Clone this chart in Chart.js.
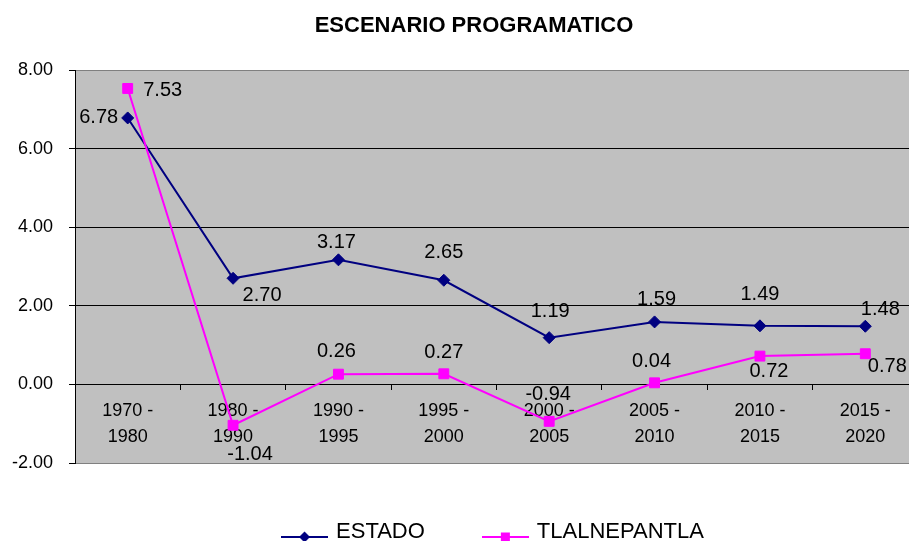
<!DOCTYPE html>
<html>
<head>
<meta charset="utf-8">
<script src="https://cdn.jsdelivr.net/npm/chart.js@4/dist/chart.umd.min.js"></script>
<style>
  html, body { margin: 0; padding: 0; overflow: hidden; background: #ffffff; }
  #wrap { position: absolute; left: 0; top: 0; width: 926px; height: 555px; }
</style>
</head>
<body>
<div id="wrap"><canvas id="c" width="926" height="555" style="width:926px;height:555px"></canvas></div>
<script>
// ---- data ----
const title = 'ESCENARIO PROGRAMATICO';
const categories = [
  ['1970 -', '1980'], ['1980 -', '1990'], ['1990 -', '1995'], ['1995 -', '2000'],
  ['2000 -', '2005'], ['2005 -', '2010'], ['2010 -', '2015'], ['2015 -', '2020']
];
const seriesNames = ['ESTADO', 'TLALNEPANTLA'];
const estado = [6.78, 2.70, 3.17, 2.65, 1.19, 1.59, 1.49, 1.48];
const tlalnepantla = [7.53, -1.04, 0.26, 0.27, -0.94, 0.04, 0.72, 0.78];
const yTickValues = [-2, 0, 2, 4, 6, 8];

// ---- label placement (style, relative to each point) ----
const estadoLabelShift = [[-29,0],[29,17],[-2,-17],[0,-28],[1,-26],[2,-22],[0,-31],[15,-17]];
const tlalLabelShift = [[35,2],[17,29],[-2,-23],[0,-21],[-1,-27],[-3,-21],[9,15],[22,13]];

const FONT = '"Liberation Sans", Arial, Helvetica, sans-serif';
const NAVY = '#000080';
const MAGENTA = '#FF00FF';

function legendImage(color, kind) {
  const c = document.createElement('canvas');
  c.width = 47; c.height = 30;
  const g = c.getContext('2d');
  const cy = 20;
  g.strokeStyle = color; g.lineWidth = 2;
  g.beginPath(); g.moveTo(0, cy); g.lineTo(47, cy); g.stroke();
  g.fillStyle = color;
  g.beginPath();
  if (kind === 'diamond') {
    g.moveTo(23.5 - 5.5, cy); g.lineTo(23.5, cy - 5.5); g.lineTo(23.5 + 5.5, cy); g.lineTo(23.5, cy + 5.5);
    g.closePath();
  } else {
    g.rect(23.5 - 4.5, cy - 4.5, 9, 9);
  }
  g.fill();
  return c;
}
const legendImages = [legendImage(NAVY, 'diamond'), legendImage(MAGENTA, 'square')];
const labelShifts = [estadoLabelShift, tlalLabelShift];

const plotBg = {
  id: 'plotBg',
  beforeDraw(chart) {
    const {ctx, chartArea: a} = chart;
    ctx.save();
    ctx.fillStyle = '#C0C0C0';
    ctx.fillRect(a.left, a.top, a.right - a.left, a.bottom - a.top);
    ctx.restore();
  }
};

const boxShift = {
  id: 'boxShift',
  afterLayout(chart) {
    const lg = chart.legend;
    if (lg) { lg.left += 31; lg.right += 31; lg.top -= 2; lg.bottom -= 2; }
    const tb = chart.titleBlock;
    if (tb) { tb.left += 11; tb.right += 11; }
  }
};

const valueLabels = {
  id: 'valueLabels',
  afterDatasetsDraw(chart) {
    const ctx = chart.ctx;
    ctx.save();
    ctx.font = '20px ' + FONT;
    ctx.fillStyle = '#000000';
    ctx.textAlign = 'center';
    ctx.textBaseline = 'middle';
    chart.data.datasets.forEach((ds, di) => {
      const meta = chart.getDatasetMeta(di);
      meta.data.forEach((el, i) => {
        const s = labelShifts[di][i];
        ctx.fillText(ds.data[i].toFixed(2), el.x + s[0], el.y + s[1]);
      });
    });
    ctx.restore();
  }
};

new Chart(document.getElementById('c'), {
  type: 'line',
  data: {
    labels: categories,
    datasets: [
      {
        label: seriesNames[0], data: estado, order: 1,
        borderColor: NAVY, backgroundColor: NAVY, borderWidth: 2,
        pointStyle: 'rectRot', pointRadius: 6, pointBorderWidth: 1,
        pointBackgroundColor: NAVY, pointBorderColor: NAVY, tension: 0, fill: false
      },
      {
        label: seriesNames[1], data: tlalnepantla, order: 0,
        borderColor: MAGENTA, backgroundColor: MAGENTA, borderWidth: 2,
        pointStyle: 'rect', pointRadius: 7, pointBorderWidth: 1,
        pointBackgroundColor: MAGENTA, pointBorderColor: MAGENTA, tension: 0, fill: false
      }
    ]
  },
  options: {
    responsive: false,
    devicePixelRatio: 1,
    animation: false,
    events: [],
    layout: { padding: { left: 0, right: 0, top: 0, bottom: 0 } },
    scales: {
      x: {
        type: 'category',
        position: { y: 0 },
        offset: true,
        grid: { display: true, offset: true, drawOnChartArea: false, drawTicks: true, tickLength: 5, color: '#000000', lineWidth: 1 },
        border: { display: true, color: '#000000', width: 1 },
        ticks: { color: '#000000', font: { family: FONT, size: 18, lineHeight: 1.44 }, padding: 9, maxRotation: 0, autoSkip: false }
      },
      y: {
        min: -2, max: 8,
        afterBuildTicks(scale) { scale.ticks = yTickValues.map(v => ({ value: v })); },
        afterFit(scale) { scale.width = 75; },
        grid: {
          color: (c) => (c.tick && (c.tick.value === 8 || c.tick.value === -2)) ? '#808080' : '#000000',
          tickColor: '#000000', tickLength: 6, lineWidth: 1, drawTicks: true
        },
        border: { display: true, color: '#000000', width: 1 },
        ticks: {
          color: '#000000', padding: 16,
          font: { family: FONT, size: 18 },
          callback: (v) => Number(v).toFixed(2)
        }
      }
    },
    plugins: {
      tooltip: { enabled: false },
      title: {
        display: true, text: title, color: '#000000',
        font: { family: FONT, size: 22, weight: 'bold', lineHeight: 1.2 },
        padding: { top: 12.8, bottom: 30.8 }
      },
      legend: {
        display: true, position: 'bottom',
        labels: {
          color: '#000000',
          font: { family: FONT, size: 22 },
          usePointStyle: true,
          pointStyleWidth: 41,
          padding: 60,
          sort: (a, b) => a.datasetIndex - b.datasetIndex,
          generateLabels(chart) {
            const items = Chart.defaults.plugins.legend.labels.generateLabels(chart);
            items.forEach(it => { it.pointStyle = legendImages[it.datasetIndex]; });
            return items;
          }
        }
      }
    }
  },
  plugins: [plotBg, boxShift, valueLabels]
});
</script>
</body>
</html>
